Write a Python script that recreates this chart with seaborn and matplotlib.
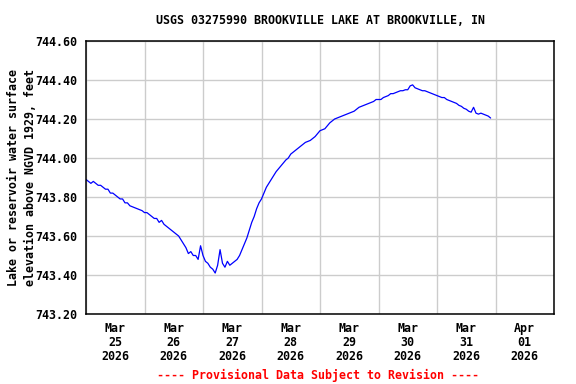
import numpy as np
import pandas as pd
import matplotlib
matplotlib.use('Agg')
import matplotlib.pyplot as plt
import matplotlib.dates as mdates
import seaborn as sns

# hourly lake elevation readings, starting Mar 25 2026 00:00
start_time = '2026-03-25 00:00'
elevation = [
    743.89, 743.88, 743.87, 743.88, 743.87, 743.86, 743.86, 743.85, 743.84, 743.84, 743.82, 743.82,
    743.81, 743.80, 743.79, 743.79, 743.77, 743.77, 743.755, 743.75, 743.745, 743.74, 743.735, 743.73,
    743.72, 743.72, 743.71, 743.70, 743.69, 743.69, 743.67, 743.68, 743.66, 743.65, 743.64, 743.63,
    743.62, 743.61, 743.60, 743.58, 743.56, 743.54, 743.51, 743.52, 743.50, 743.50, 743.48, 743.55,
    743.50, 743.47, 743.46, 743.44, 743.43, 743.41, 743.45, 743.53, 743.46, 743.44, 743.47, 743.45,
    743.46, 743.47, 743.48, 743.50, 743.53, 743.56, 743.59, 743.63, 743.67, 743.70, 743.74, 743.77,
    743.79, 743.82, 743.85, 743.87, 743.89, 743.91, 743.93, 743.945, 743.96, 743.975, 743.99, 744.00,
    744.02, 744.03, 744.04, 744.05, 744.06, 744.07, 744.08, 744.085, 744.09, 744.10, 744.11, 744.125,
    744.14, 744.145, 744.15, 744.165, 744.18, 744.19, 744.20, 744.205, 744.21, 744.215, 744.22, 744.225,
    744.23, 744.235, 744.24, 744.25, 744.26, 744.265, 744.27, 744.275, 744.28, 744.285, 744.29, 744.30,
    744.30, 744.30, 744.31, 744.315, 744.32, 744.33, 744.33, 744.335, 744.34, 744.345, 744.345, 744.35,
    744.35, 744.37, 744.375, 744.36, 744.355, 744.35, 744.345, 744.345, 744.34, 744.335, 744.33, 744.325,
    744.32, 744.315, 744.31, 744.31, 744.30, 744.295, 744.29, 744.285, 744.28, 744.27, 744.265, 744.255,
    744.25, 744.24, 744.235, 744.26, 744.23, 744.225, 744.23, 744.225, 744.22, 744.215, 744.205,
]
y_ticks = [743.20, 743.40, 743.60, 743.80, 744.00, 744.20, 744.40, 744.60]
title = 'USGS 03275990 BROOKVILLE LAKE AT BROOKVILLE, IN'
y_label = 'Lake or reservoir water surface\nelevation above NGVD 1929, feet'
footer = '---- Provisional Data Subject to Revision ----'

df = pd.DataFrame({
    'time': pd.date_range(start_time, periods=len(elevation), freq='h'),
    'elevation': elevation,
})

sns.set_style('white')
plt.rcParams['font.family'] = ['DejaVu Sans Mono']
plt.rcParams['font.weight'] = 'bold'
plt.rcParams['text.color'] = 'black'
plt.rcParams['xtick.color'] = 'black'
plt.rcParams['ytick.color'] = 'black'
plt.rcParams['xtick.labelcolor'] = 'black'
plt.rcParams['ytick.labelcolor'] = 'black'
fs = 8.4

fig = plt.figure(figsize=(5.76, 3.84), dpi=100)
ax = fig.add_axes([86 / 576, 1 - 314 / 384, 468 / 576, 273 / 384])

sns.lineplot(data=df, x='time', y='elevation', ax=ax, color='#0000ff', linewidth=0.9)

ax.set_xlim(pd.Timestamp('2026-03-25'), pd.Timestamp('2026-04-02'))
ax.set_ylim(743.20, 744.60)
ax.set_yticks(y_ticks)
ax.yaxis.set_major_formatter(matplotlib.ticker.FormatStrFormatter('%.2f'))

# gridlines at midnight, labels at noon
ax.xaxis.set_major_locator(mdates.DayLocator())
ax.xaxis.set_major_formatter(matplotlib.ticker.NullFormatter())
ax.xaxis.set_minor_locator(mdates.HourLocator(byhour=[12]))
ax.xaxis.set_minor_formatter(mdates.DateFormatter('%b\n%d\n%Y'))

ax.grid(True, which='major', color='#cccccc', linewidth=1)
ax.tick_params(axis='both', which='major', direction='in', length=3, width=1,
               labelsize=fs, color='black', labelcolor='black')
ax.tick_params(axis='x', which='minor', length=0, labelsize=fs, pad=6, labelcolor='black')
ax.tick_params(axis='x', which='major', length=0)
ax.tick_params(axis='y', pad=6)
for lbl in ax.get_xticklabels(minor=True) + ax.get_yticklabels():
    lbl.set_fontweight('bold')
    lbl.set_linespacing(1.1)

for s in ax.spines.values():
    s.set_color('black')
    s.set_linewidth(1.1)

ax.set_xlabel('')
ax.set_ylabel('')
fig.text(320 / 576, 1 - 20 / 384, title, ha='center', va='center',
         fontsize=fs, fontweight='bold', color='black')
fig.text(22 / 576, 1 - 177 / 384, y_label, ha='center', va='center', rotation=90,
         fontsize=fs, fontweight='bold', linespacing=1.4, color='black')
fig.text(318 / 576, 1 - 375 / 384, footer, ha='center', va='center',
         fontsize=fs, fontweight='bold', color='red')

fig.savefig('out.png', dpi=100)
